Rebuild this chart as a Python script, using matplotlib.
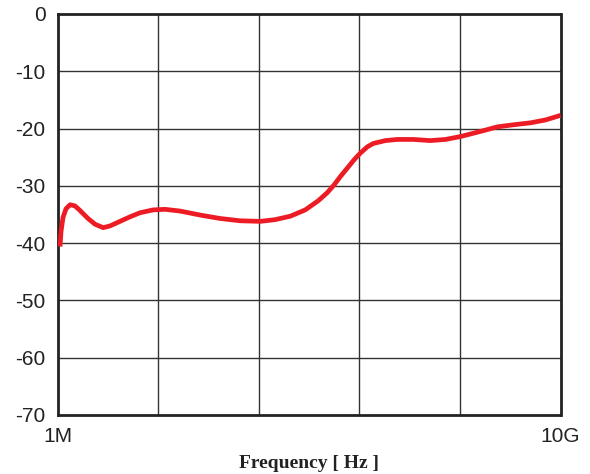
import numpy as np
import matplotlib
matplotlib.use("Agg")
import matplotlib.pyplot as plt
from matplotlib.ticker import FixedLocator, NullLocator

# frequency as log10(Hz)
freq_log10 = [6.016, 6.024, 6.040, 6.064, 6.096, 6.135, 6.175, 6.239, 6.295, 6.359,
              6.414, 6.494, 6.574, 6.653, 6.757, 6.853, 6.972, 7.131, 7.291, 7.450,
              7.610, 7.729, 7.849, 7.968, 8.072, 8.143, 8.199, 8.247, 8.303, 8.359,
              8.406, 8.462, 8.510, 8.606, 8.701, 8.829, 8.964, 9.084, 9.203, 9.363,
              9.498, 9.641, 9.761, 9.880, 10.0]
level_db = [-40.6, -38.0, -35.5, -34.0, -33.3, -33.5, -34.3, -35.7, -36.7, -37.3,
            -37.0, -36.2, -35.4, -34.7, -34.2, -34.1, -34.4, -35.1, -35.7, -36.1,
            -36.2, -35.9, -35.3, -34.2, -32.6, -31.2, -29.8, -28.4, -26.9, -25.4,
            -24.3, -23.2, -22.6, -22.1, -21.9, -21.9, -22.1, -21.9, -21.4, -20.5,
            -19.7, -19.3, -19.0, -18.5, -17.7]
freq_hz = [10 ** v for v in freq_log10]

y_ticks = [0, -10, -20, -30, -40, -50, -60, -70]
x_tick_vals = [1e6, 1e10]
x_tick_labels = ["1M", "10G"]
x_grid_vals = [10 ** (6 + 0.8 * k) for k in range(1, 5)]

fig = plt.figure(figsize=(5.9, 4.74), dpi=100)
ax = fig.add_axes([0.0983, 0.1245, 0.8517, 0.846])
ax.set_xscale("log")
ax.set_xlim(1e6, 1e10)
ax.set_ylim(-70, 0)

ax.plot(freq_hz, level_db, color="#ED1C24", linewidth=3.4, solid_capstyle="butt",
        solid_joinstyle="round", zorder=3)

ax.xaxis.set_major_locator(FixedLocator(x_tick_vals))
ax.set_xticklabels(x_tick_labels)
ax.xaxis.set_minor_locator(NullLocator())
ax.yaxis.set_major_locator(FixedLocator(y_ticks))
ax.set_yticklabels([str(v) for v in y_ticks])

for xv in x_grid_vals:
    ax.axvline(xv, color="#333333", linewidth=1.0, zorder=1)
for yv in y_ticks[1:-1]:
    ax.axhline(yv, color="#333333", linewidth=1.0, zorder=1)

ax.tick_params(axis="both", length=0, labelsize=15, colors="#222222")
ax.tick_params(axis="y", pad=9)
ax.tick_params(axis="x", pad=9)
for lab in ax.get_xticklabels() + ax.get_yticklabels():
    lab.set_fontfamily("Liberation Sans")

for sp in ax.spines.values():
    sp.set_linewidth(2.0)
    sp.set_color("#222222")

fig.text(0.5 * (0.0983 + 0.95), 1 - 468 / 474, "Frequency [ Hz ]", ha="center", va="baseline",
         fontfamily="Liberation Serif", fontweight="bold", fontsize=14, color="#222222")

fig.savefig("out.png", dpi=100)
